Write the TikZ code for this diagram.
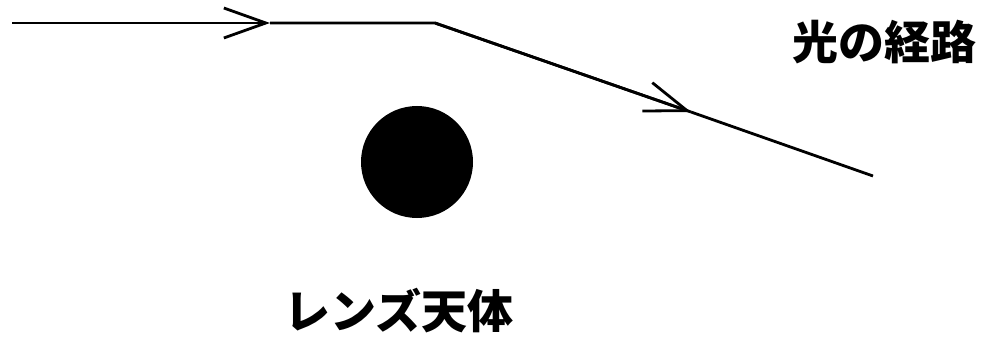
\documentclass[tikz,border=0pt]{standalone}
\usepackage{fontspec}
\newfontfamily\cjk{Noto Sans CJK JP}
\usetikzlibrary{arrows.meta}
\begin{document}
\begin{tikzpicture}[x=1pt,y=-1pt,
  ray/.style={line width=2.8pt},
  chev/.style={ray,-{Straight Barb[length=42pt,width=30pt,line width=2.8pt]}},
  lbl/.style={font=\cjk\bfseries\fontsize{46}{52}\selectfont,inner sep=0pt}]
\useasboundingbox (0,0) rectangle (1004,342);
\coordinate (start) at (12,23);
\coordinate (a1) at (270,23);
\coordinate (bend) at (435,23);
\coordinate (a2) at (691,112);
\coordinate (end) at (873,176);
\draw[chev] (start) -- (a1);
\draw[ray] (a1) -- (bend) -- (a2);
\draw[chev] (bend) -- (a2);
\draw[ray] (a2) -- (end);
\node[circle,fill=black,minimum size=112pt,inner sep=0pt] (lens) at (417,162) {};
\node[lbl] (path) at (884,42) {光の経路};
\node[lbl] (lenslbl) at (399,311) {レンズ天体};
\end{tikzpicture}
\end{document}
